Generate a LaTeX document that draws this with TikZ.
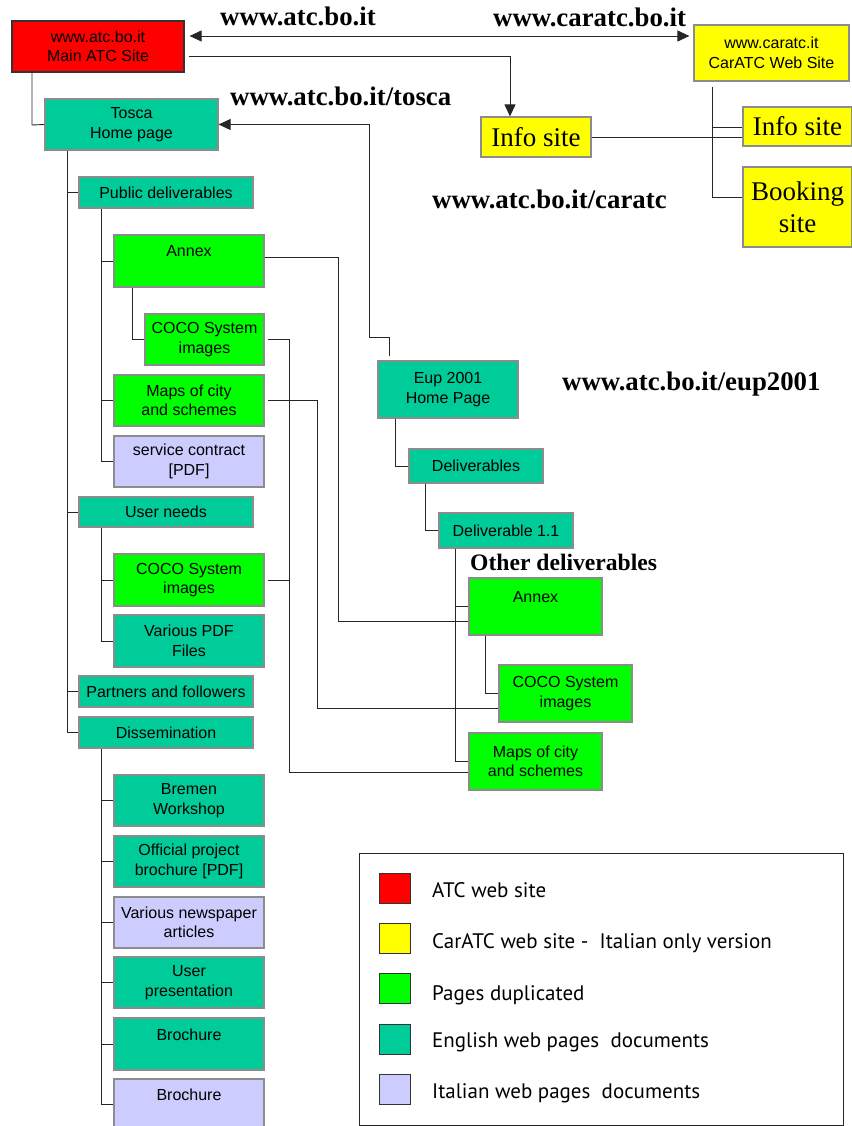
\documentclass[tikz,border=0pt]{standalone}
\usepackage{fontspec}
\setmainfont{Liberation Serif}
\setsansfont{Liberation Sans}
\newfontfamily\legfont{PT Sans}
\usetikzlibrary{arrows.meta}
\definecolor{atcred}{RGB}{255,0,0}
\definecolor{caryellow}{RGB}{255,255,0}
\definecolor{dupgreen}{RGB}{0,255,0}
\definecolor{engteal}{RGB}{0,204,153}
\definecolor{itlav}{RGB}{204,204,255}
\definecolor{boxgray}{RGB}{140,140,140}
\newcommand\mybox[7]{\node[#6, minimum width={#4-#2}, minimum height={#5-#3}] (#1) at ({(#2+#4)/2},{(#3+#5)/2}) {#7};}
\begin{document}
\begin{tikzpicture}[x=1pt,y=-1pt,
  box/.style={draw=boxgray, line width=1.2pt, inner sep=0pt, align=center,
    font=\sffamily\fontsize{16}{19.5}\selectfont, text=black},
  red box/.style={box, fill=atcred, draw=black!80},
  yel box/.style={box, fill=caryellow},
  yel big/.style={box, fill=caryellow, font=\fontsize{27}{32}\selectfont},
  grn box/.style={box, fill=dupgreen},
  teal box/.style={box, fill=engteal},
  lav box/.style={box, fill=itlav},
  url/.style={anchor=base west, inner sep=0pt, font=\bfseries\fontsize{26.8}{30}\selectfont},
  conn/.style={draw=black!85, line width=0.9pt},
  tip/.style={-{Triangle[length=12pt,width=11pt]}},
  legtext/.style={anchor=base west, inner sep=0pt, font=\legfont\fontsize{21}{25}\selectfont},
  swatch/.style={draw=black!80, line width=1pt, minimum width=31pt, minimum height=30pt, inner sep=0pt}
]
\useasboundingbox (0,0) rectangle (851,1126);

% ---------- boxes ----------
\mybox{main}{12}{21}{184}{72}{red box}{www.atc.bo.it\\Main ATC Site}
\mybox{caratc}{694}{25}{849}{81}{yel box}{www.caratc.it\\CarATC Web Site}
\mybox{info1}{481}{117}{591}{157}{yel big}{Info site}
\mybox{info2}{743}{107}{852}{146}{yel big}{Info site}
\mybox{booking}{743}{167}{852}{247}{yel big}{Booking\\site}

\mybox{tosca}{45}{99}{218}{150}{teal box}{Tosca\\Home page}
\mybox{pub}{79}{177}{253}{208}{teal box}{Public deliverables}
\mybox{annexA}{114}{235}{264}{287}{grn box}{Annex\\~}
\mybox{cocoA}{145}{314}{264}{365}{grn box}{COCO System\\images}
\mybox{mapsA}{114}{375}{264}{426}{grn box}{Maps of city\\and schemes}
\mybox{svc}{114}{436}{264}{487}{lav box}{service contract\\{[PDF]}}
\mybox{userneeds}{79}{497}{253}{527}{teal box}{User needs}
\mybox{cocoB}{114}{554}{264}{606}{grn box}{COCO System\\images}
\mybox{vpdf}{114}{615}{264}{667}{teal box}{Various PDF\\Files}
\mybox{partners}{79}{676}{253}{707}{teal box}{Partners and followers}
\mybox{dissem}{79}{717}{253}{748}{teal box}{Dissemination}
\mybox{bremen}{114}{775}{264}{826}{teal box}{Bremen\\Workshop}
\mybox{official}{114}{836}{264}{887}{teal box}{Official project\\brochure [PDF]}
\mybox{news}{114}{897}{264}{948}{lav box}{Various newspaper\\articles}
\mybox{userpres}{114}{957}{264}{1008}{teal box}{User\\presentation}
\mybox{brochA}{114}{1018}{264}{1070}{teal box}{Brochure\\~}
\mybox{brochB}{114}{1079}{264}{1130}{lav box}{Brochure\\~}

\mybox{eup}{378}{361}{518}{418}{teal box}{Eup 2001\\Home Page}
\mybox{deliv}{409}{449}{543}{483}{teal box}{Deliverables}
\mybox{dOne}{439}{513}{573}{548}{teal box}{Deliverable 1.1}
\mybox{annexB}{469}{578}{602}{635}{grn box}{Annex\\~}
\mybox{cocoC}{499}{665}{632}{722}{grn box}{COCO System\\images}
\mybox{mapsB}{469}{733}{602}{790}{grn box}{Maps of city\\and schemes}

% ---------- labels ----------
\node[url] (l1) at (220,26) {www.atc.bo.it};
\node[url] (l2) at (493,27) {www.caratc.bo.it};
\node[url] (l3) at (230,106) {www.atc.bo.it/tosca};
\node[url] (l4) at (432,208) {www.atc.bo.it/caratc};
\node[url] (l5) at (562,390) {www.atc.bo.it/eup2001};
\node[url, font=\bfseries\fontsize{23.6}{28}\selectfont] (l6) at (470,570) {Other deliverables};

% ---------- connectors ----------
\coordinate (a1) at (0,36);
\draw[conn, {Triangle[length=12pt,width=11pt]}-{Triangle[length=12pt,width=11pt]}, shorten <=5pt, shorten >=4pt]
  (main.east |- a1) -- (caratc.west |- a1);
\coordinate (b1) at (510,56);
\draw[conn, tip] (main.east |- b1) ++(4,0) -- (b1) -- (b1 |- info1.north);
\coordinate (c1) at (32,125);
\draw[conn] (main.south -| c1) -- (c1) -- (tosca.west);
\coordinate (d1) at (389,337);
\coordinate (d2) at (369,337);
\draw[conn, tip] (d1 |- eup.north) ++(0,-4) -- (d1) -- (d2) -- (d2 |- tosca.east) -- (tosca.east);
\draw[conn] (info1.east) -- (info2.west |- info1.east);
\coordinate (e1) at (712,87);
\coordinate (e2) at (712,127);
\coordinate (e3) at (712,197);
\draw[conn] (e1) -- (e3) -- (booking.west |- e3);
\draw[conn] (e2) -- (info2.west |- e2);

% Tosca tree
\coordinate (t0) at (67,0);
\draw[conn] (tosca.south -| t0) -- (t0 |- dissem.west) -- (dissem.west);
\foreach \n in {pub,userneeds,partners} \draw[conn] (t0 |- \n.west) -- (\n.west);
\coordinate (p0) at (101,0);
\draw[conn] (pub.south -| p0) -- (p0 |- svc.west) -- (svc.west);
\foreach \n in {annexA,mapsA} \draw[conn] (p0 |- \n.west) -- (\n.west);
\coordinate (q0) at (132,0);
\draw[conn] (annexA.south -| q0) -- (q0 |- cocoA.west) -- (cocoA.west);
\draw[conn] (userneeds.south -| p0) -- (p0 |- vpdf.west) -- (vpdf.west);
\draw[conn] (p0 |- cocoB.west) -- (cocoB.west);
\draw[conn] (dissem.south -| p0) -- (p0 |- brochB.west) -- (brochB.west);
\foreach \n in {bremen,official,news,userpres,brochA} \draw[conn] (p0 |- \n.west) -- (\n.west);

% Eup tree
\coordinate (u0) at (395,0);
\draw[conn] (eup.south -| u0) -- (u0 |- deliv.west) -- (deliv.west);
\coordinate (u1) at (425,0);
\draw[conn] (deliv.south -| u1) -- (u1 |- dOne.west) -- (dOne.west);
\coordinate (u2) at (455,0);
\draw[conn] (dOne.south -| u2) -- (u2 |- mapsB.west) -- (mapsB.west);
\draw[conn] (u2 |- annexB.west) -- (annexB.west);
\coordinate (u3) at (485,0);
\draw[conn] (annexB.south -| u3) -- (u3 |- cocoC.west) -- (cocoC.west);

% duplicate links
\coordinate (x1) at (338,257);
\coordinate (x1b) at (338,621);
\draw[conn] (annexA.east |- x1) -- (x1) -- (x1b) -- (annexB.west |- x1b);
\coordinate (x2) at (317,0);
\coordinate (x2b) at (317,708);
\draw[conn] (mapsA.east) ++(3,0) -- (x2 |- mapsA.east) -- (x2b) -- (cocoC.west |- x2b);
\coordinate (x3) at (289,0);
\coordinate (x3b) at (289,772);
\draw[conn] (cocoA.east) ++(3,0) -- (x3 |- cocoA.east) -- (x3b) -- (mapsB.west |- x3b);
\draw[conn] (cocoB.east) ++(3,0) -- (x3 |- cocoB.east);

% ---------- legend ----------
\node[draw=black!85, line width=1pt, minimum width=484pt, minimum height=272pt, inner sep=0pt] (legend) at (601,989) {};
\node[swatch, fill=atcred] (s1) at (394.5,888) {};
\node[swatch, fill=caryellow] (s2) at (394.5,938) {};
\node[swatch, fill=dupgreen] (s3) at (394.5,988) {};
\node[swatch, fill=engteal] (s4) at (394.5,1039) {};
\node[swatch, fill=itlav] (s5) at (394.5,1089.5) {};
\node[legtext] (t1) at (432,897) {ATC web site};
\node[legtext] (t2) at (432,948) {CarATC web site -\ \ Italian only version};
\node[legtext] (t3) at (432,1000) {Pages duplicated};
\node[legtext] (t4) at (432,1047) {English web pages\ \ documents};
\node[legtext] (t5) at (432,1098) {Italian web pages\ \ documents};
\end{tikzpicture}
\end{document}
